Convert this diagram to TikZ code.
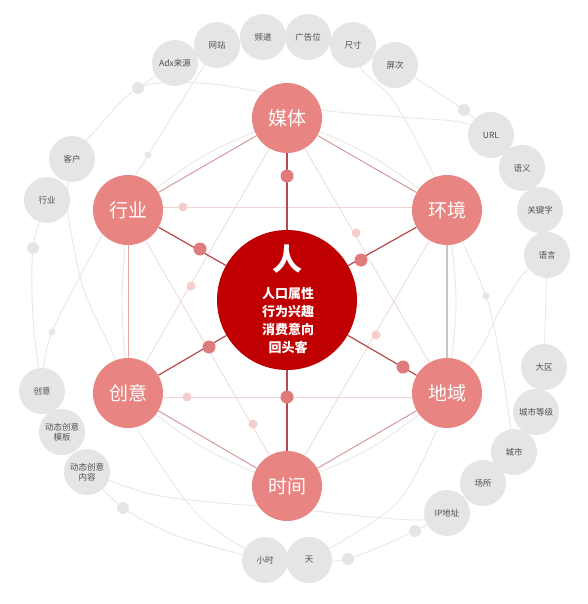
\documentclass[tikz,border=0pt]{standalone}
\usepackage{fontspec}
\setmainfont{Noto Sans CJK SC}
\usetikzlibrary{backgrounds}
\definecolor{hub}{HTML}{C00000}
\definecolor{pinknode}{HTML}{E88481}
\definecolor{graynode}{HTML}{E5E5E5}
\definecolor{graytext}{HTML}{505050}
\definecolor{spoke}{HTML}{B5494C}
\definecolor{spokedot}{HTML}{E07B7B}
\definecolor{hexedge}{HTML}{CF9494}
\definecolor{hexleft}{HTML}{E9AAAA}
\definecolor{hexright}{HTML}{CCC2C2}
\definecolor{faintpink}{HTML}{F4D3D3}
\definecolor{tripink}{HTML}{EEDADA}
\definecolor{faintline}{HTML}{E8E8E8}
\definecolor{fadedot}{HTML}{F6CDCD}
\tikzset{
  hubnode/.style={circle, fill=hub, minimum size=140pt, inner sep=0pt},
  hexnode/.style={circle, fill=pinknode, minimum size=70pt, inner sep=0pt, text=white, font=\fontsize{19}{19}\selectfont},
  outnode/.style={circle, fill=graynode, minimum size=46pt, inner sep=0pt, text=graytext, font=\fontsize{8.5}{9.5}\selectfont, align=center},
  gdot/.style={circle, fill=graynode, minimum size=12pt, inner sep=0pt},
  sdot/.style={circle, fill=graynode, minimum size=7pt, inner sep=0pt},
  spkdot/.style={circle, fill=spokedot, minimum size=13pt, inner sep=0pt},
  fdot/.style={circle, fill=fadedot, minimum size=9pt, inner sep=0pt},
  spokeline/.style={draw=spoke, line width=1.2pt},
  hexline/.style={draw=hexedge, line width=0.9pt},
  faintarc/.style={draw=faintline, line width=0.9pt},
  faintpk/.style={draw=faintpink, line width=0.9pt},
  triline/.style={draw=tripink, line width=0.9pt},
}
\begin{document}
\begin{tikzpicture}[x=1pt, y=-1pt]
\useasboundingbox (0,0) rectangle (587,604);

% hub
\node[hubnode] (P) at (287,300) {};
\node[text=white, font=\fontsize{30}{30}\selectfont\bfseries] (Ptitle) at (287,259) {人};
\node[text=white, font=\fontsize{13}{18}\selectfont\bfseries, align=center] (Plines) at (288,321) {人口属性\\行为兴趣\\消费意向\\回头客};

% hexagon nodes
\node[hexnode] (M) at (287,118) {媒体};
\node[hexnode] (H) at (447,210) {环境};
\node[hexnode] (D) at (447,393) {地域};
\node[hexnode] (T) at (287,486) {时间};
\node[hexnode] (C) at (128,393) {创意};
\node[hexnode] (Y) at (128,210) {行业};

% outer gray nodes
\node[outnode] (Adx) at (175,63) {Adx来源};
\node[outnode] (Wz) at (217,45) {网站};
\node[outnode] (Pd) at (263,37) {频道};
\node[outnode] (Ggw) at (308,37) {广告位};
\node[outnode] (Cc) at (353,45) {尺寸};
\node[outnode] (Pc) at (395,65) {屏次};
\node[outnode] (Url) at (491,135) {URL};
\node[outnode] (Yy) at (522,168) {语义};
\node[outnode] (Gjz) at (540,210) {关键字};
\node[outnode] (Yyan) at (547,255) {语言};
\node[outnode] (Dq) at (544,367) {大区};
\node[outnode] (Csdj) at (536,412) {城市等级};
\node[outnode] (Cs) at (514,452) {城市};
\node[outnode] (Cso) at (483,483) {场所};
\node[outnode] (Ip) at (447,513) {IP地址};
\node[outnode] (Tian) at (309,560) {天};
\node[outnode] (Xs) at (265,560) {小时};
\node[outnode] (Dtnr) at (87,472) {动态创意\\内容};
\node[outnode] (Dtmb) at (62,432) {动态创意\\模板};
\node[outnode] (Cy) at (42,391) {创意};
\node[outnode] (Hy) at (47,200) {行业};
\node[outnode] (Kh) at (72,159) {客户};

% gray dots
\node[gdot] (d1) at (138,88) {};
\node[gdot] (d2) at (33,248) {};
\node[gdot] (d3) at (464,110) {};
\node[gdot] (d4) at (123,508) {};
\node[gdot] (d5) at (415,531) {};
\node[gdot] (d6) at (348,559) {};
\node[sdot] (s1) at (148,155) {};
\node[sdot] (s2) at (52,332) {};
\node[sdot] (s3) at (486,296) {};

% spoke dots
\node[spkdot] (pM) at (287,176) {};
\node[spkdot] (pY) at (200,249) {};
\node[spkdot] (pH) at (361,260) {};
\node[spkdot] (pC) at (209,347) {};
\node[spkdot] (pD) at (403,367) {};
\node[spkdot] (pT) at (287,397) {};

% faint pink dots
\node[fdot] (f1) at (183,207) {};
\node[fdot] (f2) at (191,286) {};
\node[fdot] (f3) at (356,233) {};
\node[fdot] (f4) at (187,397) {};
\node[fdot] (f5) at (253,424) {};
\node[fdot] (f6) at (376,335) {};

\begin{scope}[on background layer]
  % faint gray arcs
  \draw[faintarc] plot[smooth] coordinates {(Wz.center) (s1.center) (115,212) (s2.center) (Cy.center)};
  \draw[faintarc] plot[smooth] coordinates {(Kh.center) (67,205) (83,287) (110,347) (C.center)};
  \draw[faintarc] plot[smooth] coordinates {(Hy.center) (d2.center) (33,320) (Cy.center)};
  \draw[faintarc] plot[smooth] coordinates {(Kh.center) (87,140) (d1.center) (200,83) (260,92) (323,110) (400,117) (460,122) (Url.center)};
  \draw[faintarc] (Adx.center) -- (d1.center);
  \draw[faintarc] plot[smooth] coordinates {(Pc.center) (d3.center) (Url.center)};
  \draw[faintarc] plot[smooth] coordinates {(Cc.center) (362,70) (393,100) (430,167) (H.center)};
  \draw[faintarc] plot[smooth] coordinates {(H.center) (s3.center) (502,370) (Cs.center)};
  \draw[faintarc] plot[smooth] coordinates {(Yyan.center) (525,272) (500,310) (480,350) (D.center)};
  \draw[faintarc] (Yyan.center) -- (Dq.center);
  \draw[faintarc] plot[smooth] coordinates {(Dtnr.center) (150,494) (220,503) (287,508) (360,516) (420,520) (Ip.center)};
  \draw[faintarc] plot[smooth] coordinates {(Dtnr.center) (d4.center) (180,537) (Xs.center)};
  \draw[faintarc] plot[smooth] coordinates {(Ip.center) (d5.center) (d6.center) (Tian.center)};
  \draw[faintarc] plot[smooth] coordinates {(C.center) (140,433) (200,517) (Xs.center)};
  \draw[faintarc] plot[smooth] coordinates {(D.center) (437,430) (395,505) (Tian.center)};
  % faint parallels to hexagon edges
  \draw[faintarc] (M.center) .. controls (201.5,153.6) .. (Y.center);
  \draw[faintarc] (M.center) .. controls (373,153.6) .. (H.center);
  \draw[faintarc] (H.center) .. controls (459,301.5) .. (D.center);
  \draw[faintarc] (D.center) .. controls (373,450) .. (T.center);
  \draw[faintarc] (T.center) .. controls (201.5,450) .. (C.center);
  \draw[faintarc] (C.center) .. controls (120,301.5) .. (Y.center);
  % triangles
  \draw[triline] (M) -- (C);
  \draw[triline] (M) -- (D);
  \draw[triline] (Y) -- (T);
  \draw[triline] (H) -- (T);
  % horizontals
  \draw[faintpk] ([yshift=3pt]Y.east) -- ([yshift=3pt]H.west);
  \draw[faintpk] ([yshift=-4pt]C.east) -- ([yshift=-4pt]D.west);
  % hexagon edges
  \draw[hexline] (M) -- (Y);
  \draw[hexline] (M) -- (H);
  \draw[hexline] (C) -- (T);
  \draw[hexline] (T) -- (D);
  \draw[hexline, draw=hexleft] (Y) -- (C);
  \draw[hexline, draw=hexright, line width=1.2pt] (H) -- (D);
  % spokes
  \draw[spokeline] (P) -- (M);
  \draw[spokeline] (P) -- (H);
  \draw[spokeline] (P) -- (D);
  \draw[spokeline] (P) -- (T);
  \draw[spokeline] (P) -- (C);
  \draw[spokeline] (P) -- (Y);
\end{scope}
\end{tikzpicture}
\end{document}
